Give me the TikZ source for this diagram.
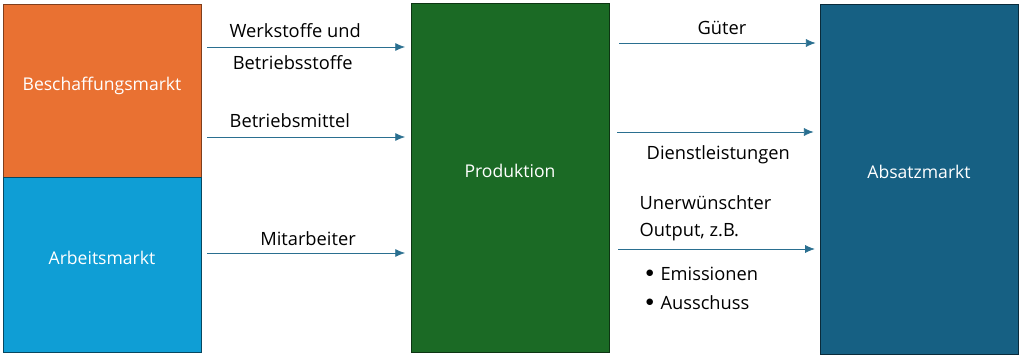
\documentclass[tikz,border=0pt]{standalone}
\usepackage{fontspec}
\setmainfont{Open Sans}
\usepackage{tikz}
\usetikzlibrary{arrows.meta}
\definecolor{bmorange}{HTML}{E97132}
\definecolor{amblue}{HTML}{0F9ED5}
\definecolor{prgreen}{HTML}{1B6A25}
\definecolor{abblue}{HTML}{166083}
\definecolor{flow}{HTML}{2A6F90}
\tikzset{
  mkt/.style={draw, minimum width=4.95cm, align=center, inner sep=0pt, text height=0pt, text depth=0pt, text=white, line width=0.6pt, font=\fontsize{12.5}{15}\selectfont},
  arr/.style={-{Latex[length=2.4mm,width=2mm]}, flow, line width=0.5pt, shorten <=0.14cm, shorten >=0.14cm},
  lbl/.style={font=\fontsize{13}{15}\selectfont, text=black, inner sep=1pt},
}
\newcommand{\itembul}{\raisebox{0.3ex}{$\bullet$}\hspace{1.6mm}}
\begin{document}
\begin{tikzpicture}
\useasboundingbox (0,0) rectangle (25.6,8.975);
\node[mkt, fill=bmorange, draw=bmorange!55!black, minimum height=4.325cm] (besch) at (2.55,6.7125) {Beschaffungsmarkt};
\node[mkt, fill=amblue, draw=amblue!45!black, minimum height=4.375cm] (arbeit) at (2.55,2.3625) {Arbeitsmarkt};
\node[mkt, fill=prgreen, draw=prgreen!50!black, minimum height=8.725cm] (prod) at (12.75,4.5375) {Produktion};
\node[mkt, fill=abblue, draw=abblue!45!black, minimum height=8.75cm] (absatz) at (22.975,4.5) {Absatzmarkt};
% arrow rows
\coordinate (r1) at (0,7.8);
\coordinate (r2) at (0,5.55);
\coordinate (r3) at (0,2.65);
\coordinate (s1) at (0,7.9);
\coordinate (s2) at (0,5.675);
\coordinate (s3) at (0,2.75);
\draw[arr] (besch.east |- r1) -- (prod.west |- r1);
\draw[arr] (besch.east |- r2) -- (prod.west |- r2);
\draw[arr] (arbeit.east |- r3) -- (prod.west |- r3);
\draw[arr, shorten <=0.25cm, shorten >=0.1cm] (prod.east |- s1) -- (absatz.west |- s1);
\draw[arr, shorten <=0.2cm, shorten >=0.15cm] (prod.east |- s2) -- (absatz.west |- s2);
\draw[arr, shorten <=0.22cm, shorten >=0.12cm] (prod.east |- s3) -- (absatz.west |- s3);
% labels
\node[lbl, anchor=west] (werk) at (5.7,8.2) {Werkstoffe und};
\node[lbl, anchor=west] (betr) at (5.78,7.4) {Betriebsstoffe};
\node[lbl, anchor=west] (mittel) at (5.7,5.95) {Betriebsmittel};
\node[lbl] (mitarb) at (7.7,3.0) {Mitarbeiter};
\node[lbl] (gueter) at (18.05,8.275) {Güter};
\node[lbl, anchor=west] (dienst) at (16.125,5.1) {Dienstleistungen};
\node[lbl, anchor=west] (unerw) at (15.95,3.9) {Unerwünschter};
\node[lbl, anchor=west] (output) at (15.95,3.175) {Output, z.B.};
\node[lbl, anchor=west] (emis) at (16.1,2.125) {\itembul Emissionen};
\node[lbl, anchor=west] (aussch) at (16.1,1.4) {\itembul Ausschuss};
\end{tikzpicture}
\end{document}
